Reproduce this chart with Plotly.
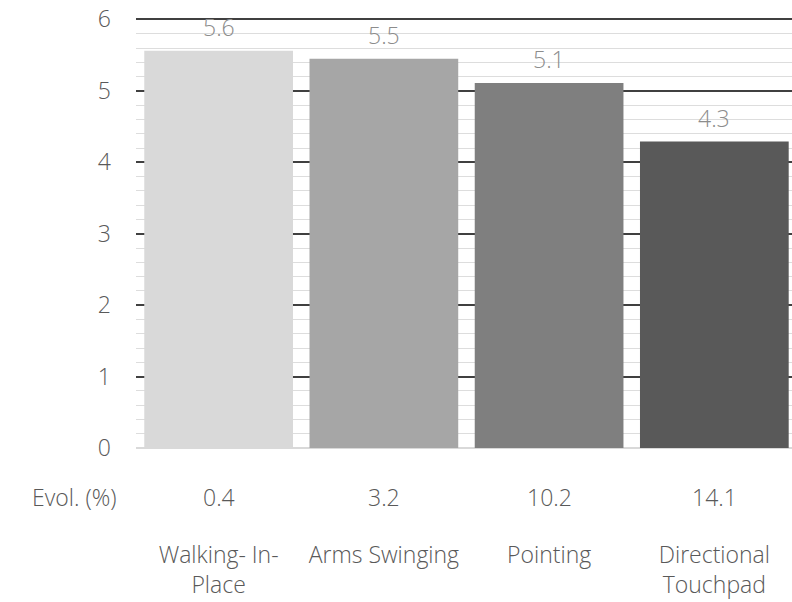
import plotly.graph_objects as go

categories = ["Walking- In-<br>Place", "Arms Swinging", "Pointing", "Directional<br>Touchpad"]
values = [5.56, 5.45, 5.11, 4.29]
value_labels = ["5.6", "5.5", "5.1", "4.3"]
evol = ["0.4", "3.2", "10.2", "14.1"]
bar_colors = ["#d9d9d9", "#a6a6a6", "#7f7f7f", "#595959"]
y_ticks = [0, 1, 2, 3, 4, 5, 6]

FONT = "Open Sans"
W = 300
FS = 23
TXT = "#595959"

xs = list(range(len(categories)))

fig = go.Figure()
fig.add_trace(go.Bar(
    x=xs, y=values, width=0.9,
    marker=dict(color=bar_colors, line=dict(width=0)),
    hoverinfo="skip",
))

annotations = []
for i, lab in enumerate(value_labels):
    annotations.append(dict(x=xs[i], y=values[i], xref="x", yref="y", text=lab,
                            showarrow=False, yanchor="middle", yshift=24,
                            font=dict(family=FONT, size=FS, color="#8c8c8c", weight=W)))
for i, ev in enumerate(evol):
    annotations.append(dict(x=xs[i], y=0, xref="x", yref="y", text=ev,
                            showarrow=False, yanchor="middle", yshift=-49,
                            font=dict(family=FONT, size=FS, color=TXT, weight=W)))
annotations.append(dict(x=0, y=0, xref="paper", yref="y", text="Evol. (%)",
                        showarrow=False, xanchor="right", yanchor="middle",
                        xshift=-17, yshift=-49,
                        font=dict(family=FONT, size=FS, color=TXT, weight=W)))

fig.update_layout(
    width=792, height=602,
    margin=dict(l=136, r=0, t=18, b=154),
    paper_bgcolor="white", plot_bgcolor="white",
    showlegend=False,
    annotations=annotations,
    font=dict(family=FONT, size=FS, color=TXT, weight=W),
    xaxis=dict(
        range=[-0.5, 3.47],
        tickmode="array", tickvals=xs, ticktext=categories,
        showgrid=False, zeroline=False, showline=False,
        ticks="", ticklabelstandoff=91, automargin=False,
        tickfont=dict(family=FONT, size=FS, color=TXT, weight=W),
        fixedrange=True,
    ),
    yaxis=dict(
        range=[0, 6.02],
        tickmode="array", tickvals=y_ticks,
        showgrid=True, gridcolor="#404040", gridwidth=1.5,
        minor=dict(dtick=0.2, showgrid=True, gridcolor="#dddddd", gridwidth=1),
        zeroline=True, zerolinecolor="#d9d9d9", zerolinewidth=1.5,
        showline=False, ticks="", ticklabelstandoff=24, automargin=False,
        ticklabeloverflow="allow",
        tickfont=dict(family=FONT, size=FS, color=TXT, weight=W),
        fixedrange=True,
    ),
)

fig.write_html("out.html", config={"displayModeBar": False},
               post_script="document.body.style.margin='0';")
